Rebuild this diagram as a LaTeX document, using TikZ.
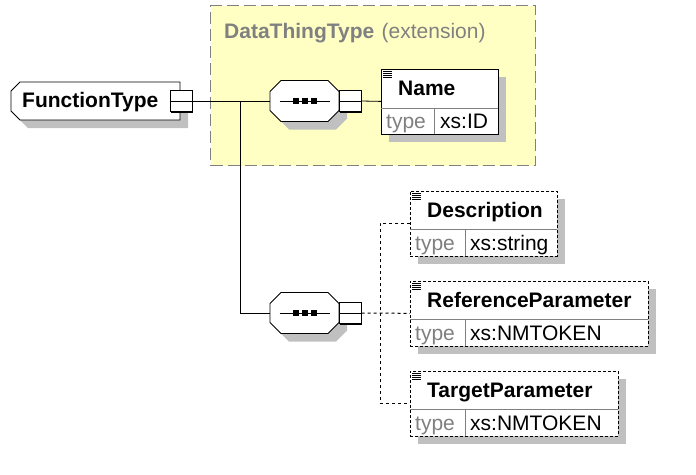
\documentclass[tikz,border=0pt]{standalone}
\usepackage{fontspec}
\setmainfont{Liberation Sans}
\usetikzlibrary{positioning,shadows}
\definecolor{extfill}{RGB}{255,255,196}
\definecolor{extline}{RGB}{128,128,128}
\definecolor{shadowgray}{RGB}{192,192,192}
\definecolor{typegray}{RGB}{128,128,128}
\definecolor{divgray}{RGB}{128,128,128}
\tikzset{
  boldtxt/.style={font=\fontsize{21}{24}\selectfont\bfseries, inner sep=0pt, anchor=base west},
  normtxt/.style={font=\fontsize{21}{24}\selectfont, inner sep=0pt, anchor=base west},
  typetxt/.style={normtxt, text=typegray},
  boxshadow/.style={drop shadow={shadow xshift=8pt, shadow yshift=-8pt, fill=shadowgray, opacity=1}},
  elem/.style={draw, fill=white, rectangle, inner sep=0pt, anchor=north west, minimum height=65, line width=0.8pt, boxshadow},
  optelem/.style={elem, dash pattern=on 3pt off 2pt},
  divline/.style={draw=divgray, line width=0.8pt},
  seqbox/.style={rectangle, minimum width=69, minimum height=41, inner sep=0pt},
  topbox/.style={rectangle, minimum width=170, minimum height=38, inner sep=0pt},
  shapeline/.style={draw=black, fill=white, line width=0.8pt},
  pmbox/.style={draw, fill=white, rectangle, minimum width=22, minimum height=21, inner sep=0pt, line width=1pt,
    drop shadow={shadow xshift=1pt, shadow yshift=-1pt, fill=black, opacity=1},
    path picture={\draw[line width=0.8pt] (path picture bounding box.west) -- (path picture bounding box.east);}},
  conn/.style={line width=0.8pt},
  optconn/.style={line width=1pt, dash pattern=on 3pt off 3pt},
}
\begin{document}
\begin{tikzpicture}[x=1pt,y=-1pt]
  \useasboundingbox (0,0) rectangle (696,474);
  % extension area
  \node[draw=extline, fill=extfill, line width=1pt, dash pattern=on 12pt off 5pt, rectangle, inner sep=0pt,
    anchor=north west, minimum width=325, minimum height=160] (ext) at (210,5) {};
  \node[boldtxt, text=typegray] (ext-t) at (224,38) {DataThingType};
  \node[typetxt, right=7pt of ext-t.base east, anchor=base west] (ext-k) {(extension)};
  % FunctionType
  \fill[shadowgray] (28,90) -- (188,90) -- (188,128) -- (28,128) -- (19,119) -- (19,99) -- cycle;
  \draw[shapeline] (20,82) -- (180,82) -- (180,120) -- (20,120) -- (11,111) -- (11,91) -- cycle;
  \node[topbox] (ft) at (95.5,101) {};
  \node[boldtxt] (ft-t) at (22,107) {FunctionType};
  \node[pmbox] (ftpm) at (181,101) {};
  % sequences
  \foreach \y in {101,313} {
    \fill[shadowgray] (289,\y-12.5) -- (336,\y-12.5) -- (347,\y-1.5) -- (347,\y+17.5)
      -- (336,\y+28.5) -- (289,\y+28.5) -- (278,\y+17.5) -- (278,\y-1.5) -- cycle;
    \draw[shapeline] (281,\y-20.5) -- (328,\y-20.5) -- (339,\y-9.5) -- (339,\y+9.5)
      -- (328,\y+20.5) -- (281,\y+20.5) -- (270,\y+9.5) -- (270,\y-9.5) -- cycle;
  }
  \node[seqbox] (seqA) at (304.5,101) {};
  \node[pmbox] (seqApm) at (350,101) {};
  \node[seqbox] (seqB) at (304.5,313) {};
  \node[pmbox] (seqBpm) at (350,313) {};
  \foreach \s in {seqA,seqB} {
    \draw[conn] ([xshift=-25pt]\s.center) -- ([xshift=25pt]\s.center);
    \foreach \i in {-9,0,9}
      \fill ([shift={(\i-3,-3)}]\s.center) rectangle ++(6,6);
  }
  % elements
  \node[elem, minimum width=117] (name) at (381,68.5) {};
  \node[boldtxt] (name-t) at (398,95.5) {Name};
  \node[typetxt] (name-k) at (386,128) {type};
  \node[normtxt] (name-v) at (440,128) {xs:ID};
  \draw[divline] (381,108.5) -- (498,108.5) (434,108.5) -- (434,133.5);

  \node[optelem, minimum width=147] (desc) at (410,190.5) {};
  \node[boldtxt] (desc-t) at (427,217.5) {Description};
  \node[typetxt] (desc-k) at (415,250) {type};
  \node[normtxt] (desc-v) at (470,250) {xs:string};
  \draw[divline] (410,229.5) -- (557,229.5) (465,229.5) -- (465,255.5);

  \node[optelem, minimum width=238] (ref) at (410,280.5) {};
  \node[boldtxt] (ref-t) at (427,307.5) {ReferenceParameter};
  \node[typetxt] (ref-k) at (415,340) {type};
  \node[normtxt] (ref-v) at (470,340) {xs:NMTOKEN};
  \draw[divline] (410,319.5) -- (648,319.5) (465,319.5) -- (465,345.5);

  \node[optelem, minimum width=208] (tgt) at (410,370.5) {};
  \node[boldtxt] (tgt-t) at (427,397.5) {TargetParameter};
  \node[typetxt] (tgt-k) at (415,430) {type};
  \node[normtxt] (tgt-v) at (470,430) {xs:NMTOKEN};
  \draw[divline] (410,409.5) -- (618,409.5) (465,409.5) -- (465,435.5);

  \foreach \e in {name,desc,ref,tgt}
    \foreach \k in {0,...,3}
      \draw[line width=0.6pt] ([shift={(2,2.5+2*\k)}]\e.north west) -- ++(9,0);
  % connectors
  \coordinate (br) at (240,101);
  \coordinate (jn) at (380,313);
  \draw[conn] (ftpm.east) -- (seqA.west);
  \draw[conn] (br) |- (seqB.west);
  \draw[conn] (seqApm.east) -- (name.west);
  \draw[optconn] (seqBpm.east) -- (jn) -- (ref.west);
  \draw[optconn] (desc.west) -| (jn) |- (tgt.west);
\end{tikzpicture}
\end{document}
